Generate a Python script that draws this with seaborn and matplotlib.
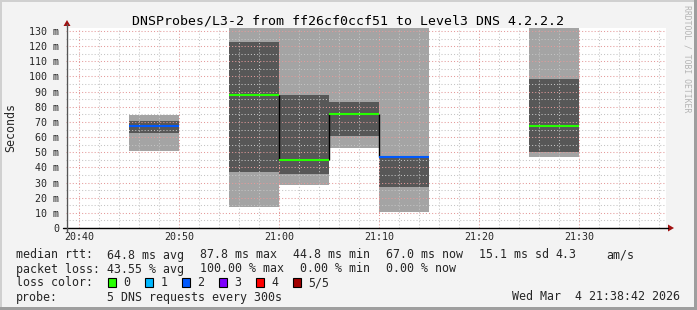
import numpy as np
import pandas as pd
import matplotlib
matplotlib.use("Agg")
import matplotlib.pyplot as plt
from matplotlib.ticker import MultipleLocator
from matplotlib.patches import Polygon, Rectangle
from matplotlib.lines import Line2D
import seaborn as sns

# ---------------- data ----------------
TITLE = "DNSProbes/L3-2 from ff26cf0ccf51 to Level3 DNS 4.2.2.2"
# start of each 5-minute interval, minutes after 20:00
slot_start = [45, 55, 60, 65, 70, 85]
slot_width = 5
rtt_min = [50.8, 13.9, 28.4, 52.8, 10.6, 46.9]          # light smoke bottom (ms)
rtt_max = [74.6, 150.0, 150.0, 150.0, 150.0, 150.0]     # light smoke top (ms, clipped)
inner_low = [62.7, 37.0, 35.6, 60.7, 27.1, 50.1]        # dark smoke bottom (ms)
inner_high = [70.6, 122.8, 87.8, 83.2, 47.3, 98.3]      # dark smoke top (ms)
median_rtt = [67.0, 87.8, 44.8, 75.4, 47.1, 67.0]       # median (ms)
lost_pings = [2, 0, 0, 0, 2, 0]

loss_labels = ["0", "1", "2", "3", "4", "5/5"]
loss_colors = ["#26ff00", "#00b8ff", "#0059ff", "#7e00ff", "#ff0000", "#a10000"]

y_ticks = list(range(0, 131, 10))
y_tick_labels = ["0"] + [f"{v} m" for v in y_ticks[1:]]
x_ticks = [40, 50, 60, 70, 80, 90]
x_tick_labels = ["20:40", "20:50", "21:00", "21:10", "21:20", "21:30"]

rtt_items = ["median rtt:", "64.8 ms avg", "87.8 ms max", "44.8 ms min",
             "67.0 ms now", "15.1 ms sd", "4.3", "am/s"]
loss_items = ["packet loss:", "43.55 % avg", "100.00 % max", "0.00 % min", "0.00 % now"]
probe_items = ["probe:", "5 DNS requests every 300s"]
DATE = "Wed Mar  4 21:38:42 2026"
SIDE = "RRDTOOL / TOBI OETIKER"

# ---------------- figure ----------------
sns.set_theme(style="white")
plt.rcParams["font.family"] = ["DejaVu Sans Mono"]
W, H = 697, 310
fig = plt.figure(figsize=(W / 100, H / 100), dpi=100, facecolor="#f3f3f3")

def fx(x):
    return x / W

def fy(y):
    return 1 - y / H

ax_l, ax_r, ax_t, ax_b = 66, 666, 28, 228
ax = fig.add_axes([fx(ax_l), fy(ax_b), (ax_r - ax_l) / W, (ax_b - ax_t) / H])
ax.set_facecolor("white")
ax.set_xlim(38.7, 98.7)
ax.set_ylim(0, 132)

light = np.array(rtt_max) - np.array(rtt_min)
dark = np.array(inner_high) - np.array(inner_low)
ax.bar(slot_start, light, bottom=rtt_min, width=slot_width, align="edge",
       color="#a4a4a4", linewidth=0, zorder=1)
ax.bar(slot_start, dark, bottom=inner_low, width=slot_width, align="edge",
       color="#575757", linewidth=0, zorder=1.5)

# black connectors between adjacent medians
for i in range(len(slot_start) - 1):
    if slot_start[i] + slot_width == slot_start[i + 1]:
        ax.vlines(slot_start[i + 1] - 0.05, median_rtt[i], median_rtt[i + 1],
                  color="black", lw=1.0, zorder=3.5)

rows = []
for i, (s, m, l) in enumerate(zip(slot_start, median_rtt, lost_pings)):
    rows.append(dict(t=s, rtt=m, seg=i, loss=loss_labels[l]))
    rows.append(dict(t=s + slot_width, rtt=m, seg=i, loss=loss_labels[l]))
df = pd.DataFrame(rows)
sns.lineplot(data=df, x="t", y="rtt", units="seg", estimator=None, hue="loss",
             hue_order=loss_labels, palette=dict(zip(loss_labels, loss_colors)),
             lw=1.5, legend=False, ax=ax, zorder=4, solid_capstyle="butt")

ax.set_xlabel("")
ax.set_ylabel("")
ax.set_xticks(x_ticks)
ax.set_xticklabels(x_tick_labels)
ax.xaxis.set_minor_locator(MultipleLocator(2))
ax.set_yticks(y_ticks)
ax.set_yticklabels(y_tick_labels)
ax.yaxis.set_minor_locator(MultipleLocator(5))
ax.tick_params(which="both", length=0)
ax.tick_params(axis="y", pad=5.0, labelsize=7.2)
ax.tick_params(axis="x", pad=3.2, labelsize=7.2)
ax.set_axisbelow(False)
ax.grid(which="minor", color="#c4c4c4", linestyle=(0, (1, 2)), lw=0.75)
ax.grid(which="major", color="#e49a9a", linestyle=(0, (1, 2)), lw=0.75)
for sp in ax.spines.values():
    sp.set_visible(False)

# axes lines and arrows
fig.add_artist(Line2D([fx(63), fx(668)], [fy(228)] * 2, color="black", lw=1.0))
fig.add_artist(Line2D([fx(66.8)] * 2, [fy(231), fy(24)], color="#555555", lw=1.0))
arrow_c = "#a01010"
fig.add_artist(Polygon([(fx(668), fy(224.5)), (fx(668), fy(231.5)), (fx(674), fy(228))],
                       closed=True, color=arrow_c, lw=0, transform=fig.transFigure))
fig.add_artist(Polygon([(fx(63.5), fy(26)), (fx(70.5), fy(26)), (fx(67), fy(20))],
                       closed=True, color=arrow_c, lw=0, transform=fig.transFigure))

# border shading
fig.add_artist(Rectangle((0, fy(2)), 1, 2 / H, color="#d0d0d0", lw=0, transform=fig.transFigure))
fig.add_artist(Rectangle((0, 0), 2 / W, 1, color="#d0d0d0", lw=0, transform=fig.transFigure))
fig.add_artist(Rectangle((0, 0), 1, 3 / H, color="#9e9e9e", lw=0, transform=fig.transFigure))
fig.add_artist(Rectangle((fx(694), 0), 3 / W, 1, color="#9e9e9e", lw=0, transform=fig.transFigure))

# texts
fig.text(fx(347.7), fy(24), TITLE, ha="center", va="baseline", fontsize=9.55, color="black")
fig.text(fx(11), fy(127), "Seconds", rotation=90, ha="center", va="center", fontsize=8.4)
fig.text(fx(687.5), fy(59), SIDE, rotation=270, ha="center", va="center",
         fontsize=5.9, color="#b4b4b4")

LS = 8.4
rtt_x = [16, 107.3, 200, 293.3, 386, 479.3, 555.7, 606.7]
for s, x in zip(rtt_items, rtt_x):
    fig.text(fx(x), fy(258.5), s, ha="left", va="baseline", fontsize=LS)
loss_x = [16, 107.3, 200, 300, 386]
for s, x in zip(loss_items, loss_x):
    fig.text(fx(x), fy(272.5), s, ha="left", va="baseline", fontsize=LS)
fig.text(fx(16), fy(286.5), "loss color:", ha="left", va="baseline", fontsize=LS)
for i, (lab, col) in enumerate(zip(loss_labels, loss_colors)):
    sx = 108.3 + 37.0 * i
    fig.add_artist(Rectangle((fx(sx), fy(287)), 8 / W, 9 / H, facecolor=col,
                             edgecolor="black", lw=0.8, transform=fig.transFigure))
    fig.text(fx(sx + 15), fy(286.5), lab, ha="left", va="baseline", fontsize=LS)
probe_x = [16, 107.3]
for s, x in zip(probe_items, probe_x):
    fig.text(fx(x), fy(300.5), s, ha="left", va="baseline", fontsize=LS)
fig.text(fx(680), fy(300.5), DATE, ha="right", va="baseline", fontsize=LS)

fig.savefig("out.png", dpi=100, facecolor=fig.get_facecolor())
